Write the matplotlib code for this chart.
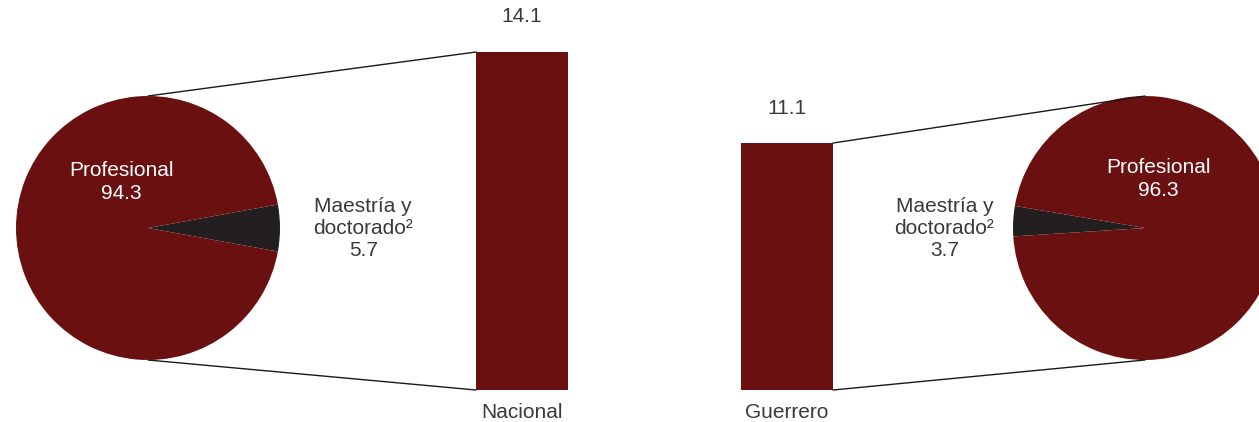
import matplotlib
matplotlib.use('Agg')
import matplotlib.pyplot as plt
from matplotlib.patches import ConnectionPatch

plt.rcParams['font.family'] = ['Liberation Sans', 'DejaVu Sans']

# data
regions = ['Nacional', 'Guerrero']
posgrado_total = [14.1, 11.1]          # bar values
pie_labels = ['Maestría y\ndoctorado²', 'Profesional']
nacional_pie = [5.7, 94.3]
guerrero_pie = [3.7, 96.3]

red = '#6B1010'
dark = '#231F20'
txt = '#3a3a3a'
W, H = 1259, 422

fig = plt.figure(figsize=(W / 100, H / 100), dpi=100)

def px_axes(l, b, w, h):
    return fig.add_axes([l / W, b / H, w / W, h / H])

# pies
ax_pl = px_axes(16, 62, 264, 264)
ax_pr = px_axes(1013, 62, 264, 264)

for ax, vals, start in [(ax_pl, nacional_pie, -nacional_pie[0] * 3.6 / 2),
                        (ax_pr, guerrero_pie, 177 - guerrero_pie[0] * 3.6 / 2)]:
    ax.pie(vals, colors=[dark, red], startangle=start, counterclock=True,
           radius=1, wedgeprops={'linewidth': 0})
    ax.set_xlim(-1, 1)
    ax.set_ylim(-1, 1)
    ax.set_aspect('equal')
    ax.axis('off')

ax_pl.text(-0.2, 0.35, '%s\n%.1f' % (pie_labels[1], nacional_pie[1]), color='white',
           fontsize=15, ha='center', va='center', linespacing=1.25)
ax_pr.text(0.1, 0.37, '%s\n%.1f' % (pie_labels[1], guerrero_pie[1]), color='white',
           fontsize=15, ha='center', va='center', linespacing=1.25)

ax_pl.text(1.63, 0.0, '%s\n%.1f' % (pie_labels[0], nacional_pie[0]), color=txt,
           fontsize=15, ha='center', va='center', linespacing=1.2, clip_on=False)
ax_pr.text(-1.52, 0.0, '%s\n%.1f' % (pie_labels[0], guerrero_pie[0]), color=txt,
           fontsize=15, ha='center', va='center', linespacing=1.2, clip_on=False)

# bars
ax_bn = px_axes(476, 32, 92, 338)
ax_bg = px_axes(741, 32, 92, 247)
for ax, name, val in zip([ax_bn, ax_bg], regions, posgrado_total):
    ax.bar([0], [val], width=1, color=red)
    ax.set_xlim(-0.5, 0.5)
    ax.set_ylim(0, val)
    ax.axis('off')
    ax.annotate('%.1f' % val, (0, val), xytext=(0, 35), textcoords='offset pixels',
                ha='center', va='center', fontsize=15, color=txt, annotation_clip=False)
    ax.annotate(name, (0, 0), xytext=(0, -23), textcoords='offset pixels',
                ha='center', va='center', fontsize=15, color=txt, annotation_clip=False)

# connector lines
for pie_ax, bar_ax, val, bx in [(ax_pl, ax_bn, posgrado_total[0], -0.5),
                                (ax_pr, ax_bg, posgrado_total[1], 0.5)]:
    for py, by in [(1, val), (-1, 0)]:
        con = ConnectionPatch(xyA=(0, py), coordsA=pie_ax.transData,
                              xyB=(bx, by), coordsB=bar_ax.transData,
                              color='#1a1a1a', linewidth=1.0)
        fig.add_artist(con)

fig.savefig('out.png', dpi=100)
